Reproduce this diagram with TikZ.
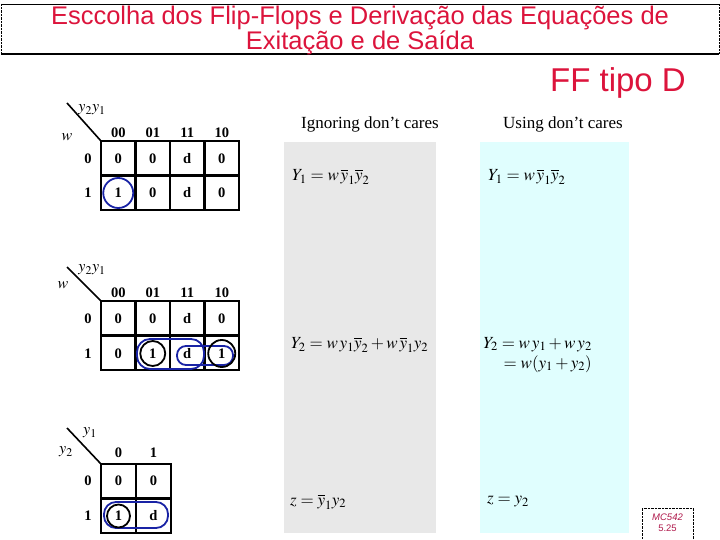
\documentclass[tikz,border=0pt]{standalone}
\usepackage{amsmath}
\usepackage{mathptmx}
\usepackage{fontspec}
\setmainfont{Liberation Serif}
\newfontfamily\titlefont{Liberation Sans}
\definecolor{titlered}{RGB}{220, 20, 60}
\definecolor{loopblue}{RGB}{25, 35, 165}
\definecolor{ignoregray}{RGB}{232, 232, 232}
\definecolor{usecyan}{RGB}{224, 254, 254}
\definecolor{tagred}{RGB}{175, 25, 75}
\usetikzlibrary{positioning, calc}

\tikzset{
  kgrid/.style={line width=2.4pt},
  kval/.style={font=\bfseries\fontsize{14.5}{16}\selectfont, inner sep=1pt},
  klabel/.style={font=\bfseries\fontsize{14.5}{16}\selectfont, inner sep=1pt},
  kvar/.style={font=\itshape\fontsize{16}{18}\selectfont, inner sep=1pt},
  bluering/.style={draw=loopblue, line width=1.8pt},
  blackring/.style={draw=black, line width=1.8pt},
  eqn/.style={anchor=west, font=\fontsize{17}{20}\selectfont, inner sep=0pt},
}

\begin{document}
\begin{tikzpicture}[x=1pt, y=-1pt]
  \useasboundingbox (0,0) rectangle (720,540);

  % Title
  \draw[line width=0.6pt] (1,4) -- (719,4);
  \draw[line width=1.2pt] (1,54) -- (719,54);
  \draw[densely dotted] (1,4) -- (1,54);
  \draw[densely dotted] (719,4) -- (719,54);
  \node[anchor=north, inner sep=0pt, font=\titlefont\fontsize{25.5}{24.5}\selectfont, text=titlered, align=center] (title) at (360,6.2)
    {Esccolha dos Flip-Flops e Derivação das Equações de\\Exitação e de Saída};
  \node[anchor=base, font=\titlefont\fontsize{33}{38}\selectfont, text=titlered] (fftype) at (618,92) {FF tipo D};

  % Shaded columns
  \fill[ignoregray] (284,142) rectangle (436,533);
  \fill[usecyan] (480,142) rectangle (629,533);
  \node[font=\fontsize{17}{19}\selectfont] (ignhead) at (370,124) {Ignoring don't cares};
  \node[font=\fontsize{17}{19}\selectfont] (usehead) at (563,124) {Using don't cares};

  % Map for Y1
  \draw[kgrid] (101,141) rectangle (239,210);
  \foreach \xx in {135.5,170,204.5} \draw[kgrid] (\xx,141) -- (\xx,210);
  \draw[kgrid] (101,175.5) -- (239,175.5);
  \coordinate (ka) at (67,103);
  \draw[line width=1.6pt] (ka) -- (101,141);
  \node[kvar] (kavar) at (92,110) {$y_2y_1$};
  \node[kvar] (kaw) at (67,137) {$w$};
  \foreach \h [count=\i] in {00,01,11,10}
    \node[klabel] (kah\i) at ({101+34.5*(\i-0.5)},133) {\h};
  \node[klabel] (kar0) at (88,159) {0};
  \node[klabel] (kar1) at (88,193) {1};
  \foreach \v [count=\i] in {0,0,d,0}
    \node[kval] (kaa\i) at ({101+34.5*(\i-0.5)},158.5) {\v};
  \foreach \v [count=\i] in {1,0,d,0}
    \node[kval] (kab\i) at ({101+34.5*(\i-0.5)},193) {\v};
  \draw[bluering] (kab1) circle[radius=15pt];

  % Map for Y2
  \draw[kgrid] (101,301) rectangle (239,370);
  \foreach \xx in {135.5,170,204.5} \draw[kgrid] (\xx,301) -- (\xx,370);
  \draw[kgrid] (101,335.5) -- (239,335.5);
  \coordinate (kb) at (67,267);
  \draw[line width=1.6pt] (kb) -- (101,301);
  \node[kvar] (kbvar) at (92,270) {$y_2y_1$};
  \node[kvar] (kbw) at (63,285) {$w$};
  \foreach \h [count=\i] in {00,01,11,10}
    \node[klabel] (kbh\i) at ({101+34.5*(\i-0.5)},293) {\h};
  \node[klabel] (kbr0) at (88,319) {0};
  \node[klabel] (kbr1) at (88,354) {1};
  \foreach \v [count=\i] in {0,0,d,0}
    \node[kval] (kba\i) at ({101+34.5*(\i-0.5)},318.5) {\v};
  \foreach \v [count=\i] in {0,1,d,1}
    \node[kval] (kbb\i) at ({101+34.5*(\i-0.5)},353.5) {\v};
  \draw[bluering, rounded corners=13pt] (137,339) rectangle (204,369);
  \draw[bluering, rounded corners=9pt] (177,346) rectangle (233,365);
  \draw[blackring] (kbb2) circle[radius=12.5pt];
  \draw[blackring] (kbb4) circle[radius=13.5pt];

  % Map for z
  \draw[kgrid] (101,464) rectangle (171,533);
  \draw[kgrid] (136,464) -- (136,533);
  \draw[kgrid] (101,498.5) -- (171,498.5);
  \coordinate (kc) at (67,428);
  \draw[line width=1.6pt] (kc) -- (101,464);
  \node[kvar] (kcy1) at (90,433) {$y_1$};
  \node[kvar] (kcy2) at (66,452) {$y_2$};
  \node[klabel] (kch1) at (118.5,453) {0};
  \node[klabel] (kch2) at (153.5,453) {1};
  \node[klabel] (kcr0) at (88,481) {0};
  \node[klabel] (kcr1) at (88,516) {1};
  \node[kval] (kca1) at (118.5,481) {0};
  \node[kval] (kca2) at (153.5,481) {0};
  \node[kval] (kcb1) at (118.5,516) {1};
  \node[kval] (kcb2) at (153.5,516) {d};
  \draw[bluering, rounded corners=12pt] (104,502) rectangle (168,528);
  \draw[blackring] (kcb1) circle[radius=11.5pt];

  % Equations, ignoring don't cares
  \node[eqn] (y1ign) at (292,177) {$Y_1 = w\,\overline{y}_1\overline{y}_2$};
  \node[eqn] (y2ign) at (291,345) {$Y_2 = w\,y_1\overline{y}_2 + w\,\overline{y}_1y_2$};
  \node[eqn] (zign) at (290,502) {$z = \overline{y}_1y_2$};

  % Equations, using don't cares
  \node[eqn] (y1use) at (488,177) {$Y_1 = w\,\overline{y}_1\overline{y}_2$};
  \node[eqn, anchor=east, align=right] (y2use) at (592,355) {$Y_2 = w\,y_1 + w\,y_2$\\$= w(y_1 + y_2)$};
  \node[eqn] (zuse) at (487,502) {$z = y_2$};

  % Slide tag
  \draw[densely dotted] (642,540) -- (642,508) -- (693,508) -- (693,540);
  \node[font=\titlefont\fontsize{9.5}{11}\selectfont, text=tagred, align=center] (tag) at (667.5,523)
    {\textit{MC542}\\5.25};
\end{tikzpicture}
\end{document}
